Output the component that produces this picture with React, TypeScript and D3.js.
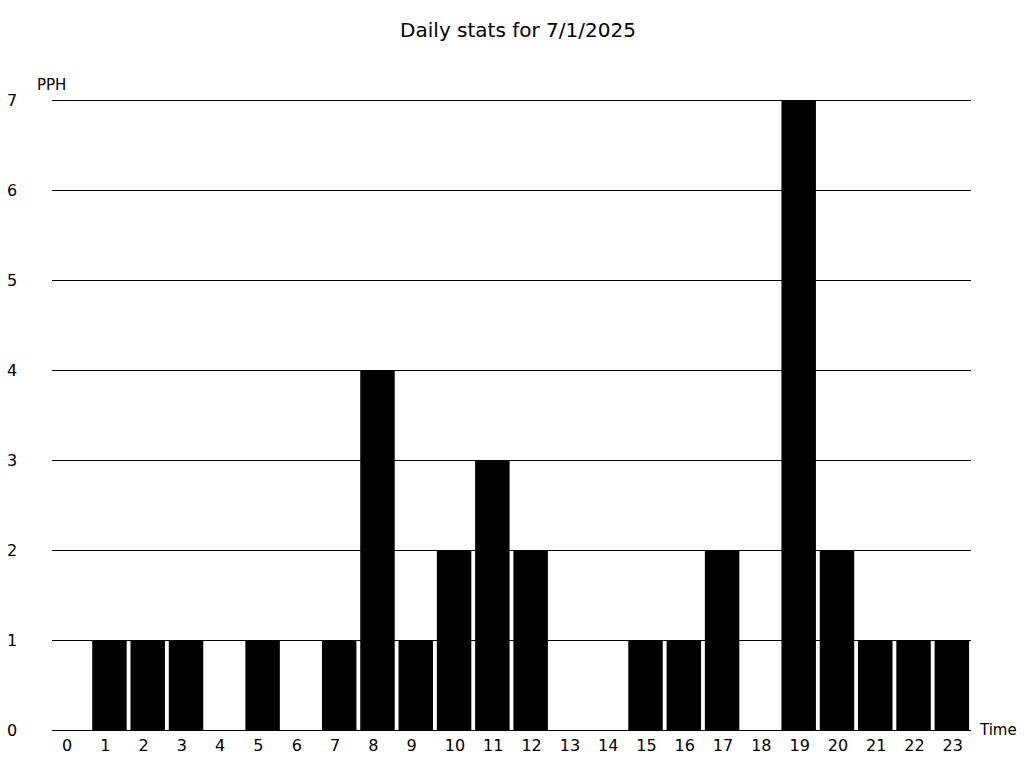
import React from "react";
import * as d3 from "d3";

const hours: number[] = d3.range(0, 24);
const hourLabels: string[] = hours.map((h) => String(h));
const pph: number[] = [0, 1, 1, 1, 0, 1, 0, 1, 4, 1, 2, 3, 2, 0, 0, 1, 1, 2, 0, 7, 2, 1, 1, 1];
const yTicks: number[] = [0, 1, 2, 3, 4, 5, 6, 7];
const title = "Daily stats for 7/1/2025";
const yTitle = "PPH";
const xTitle = "Time";

const W = 1024;
const H = 768;
const left = 52;
const right = 971;
const top = 100;
const bottom = 730;
const font = "DejaVu Sans, sans-serif";

export default function App() {
  const x = d3
    .scaleBand<number>()
    .domain(hours)
    .range([left, right])
    .paddingInner(0.1)
    .paddingOuter(0.05);
  const y = d3.scaleLinear().domain([0, 7]).range([bottom, top]);

  return (
    <svg
      width={W}
      height={H}
      style={{ position: "absolute", left: 0, top: 0, background: "#fff" }}
      fontFamily={font}
    >
      <text x={518} y={37} textAnchor="middle" fontSize={20} fill="#000">
        {title}
      </text>
      {pph.map((v, i) =>
        v > 0 ? (
          <rect
            key={"b" + i}
            x={x(hours[i])}
            y={y(v)}
            width={x.bandwidth()}
            height={y(0) - y(v)}
            fill="#000"
          />
        ) : null
      )}
      {yTicks.map((t) => (
        <g key={"y" + t}>
          <line
            x1={left}
            x2={right}
            y1={Math.round(y(t)) + 0.5}
            y2={Math.round(y(t)) + 0.5}
            stroke="#000"
            strokeWidth={1}
          />
          <text x={7} y={y(t)} dy="0.35em" fontSize={16} fill="#000">
            {t}
          </text>
        </g>
      ))}
      {hours.map((h, i) => (
        <text
          key={"x" + h}
          x={(x(h) as number) + 8}
          y={751}
          fontSize={16}
          fill="#000"
        >
          {hourLabels[i]}
        </text>
      ))}
      <text x={37} y={90} fontSize={15} fill="#000">
        {yTitle}
      </text>
      <text x={980} y={735} fontSize={15} fill="#000">
        {xTitle}
      </text>
    </svg>
  );
}
